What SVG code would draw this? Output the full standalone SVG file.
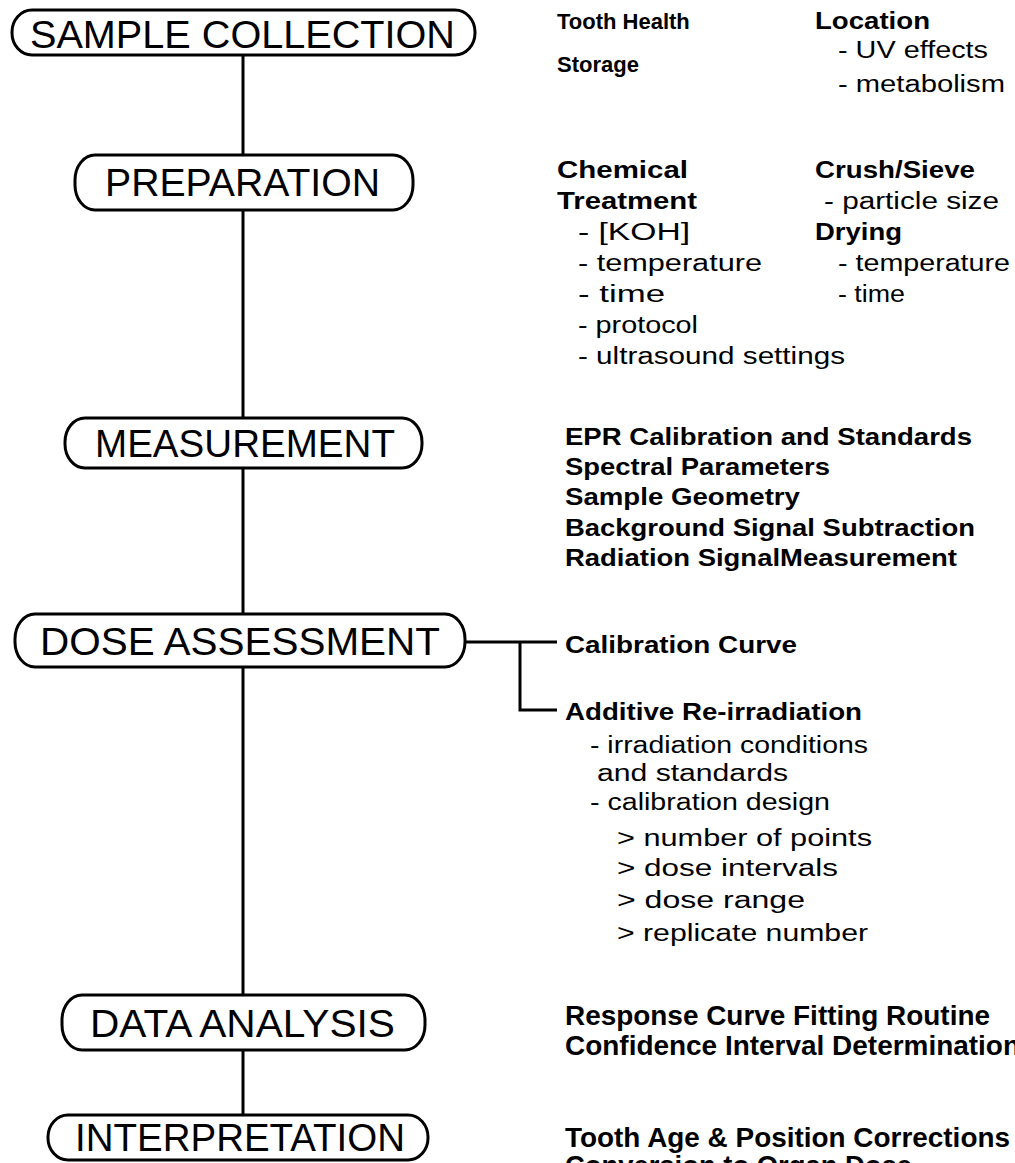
<svg xmlns="http://www.w3.org/2000/svg" width="1015" height="1163" viewBox="0 0 1015 1163">
<style>
.box{fill:#fff;stroke:#000;stroke-width:3}
.lbl{font-family:"Liberation Sans",Arial,sans-serif;font-size:38px;fill:#000}
.b{font-family:"Liberation Sans",Arial,sans-serif;font-size:23px;font-weight:bold;fill:#000}
.b22{font-family:"Liberation Sans",Arial,sans-serif;font-size:22px;font-weight:bold;fill:#000}
.r{font-family:"Liberation Sans",Arial,sans-serif;font-size:23px;fill:#000}
.bn{font-family:"Liberation Sans",Arial,sans-serif;font-size:27px;font-weight:bold;fill:#000}
.ln{fill:none;stroke:#000;stroke-width:3}
</style>
<rect width="1015" height="1163" fill="#fff"/>
<g id="connectors">
<line class="ln" x1="243" y1="55" x2="243" y2="1115"/>
<polyline class="ln" points="465,642 557,642"/>
<polyline class="ln" points="520,642 520,710 557,710"/>
</g>
<g id="n1">
<rect class="box" x="12" y="10" width="463" height="45" rx="20" ry="22"/>
<text class="lbl" x="30" y="48" textLength="425" lengthAdjust="spacingAndGlyphs">SAMPLE COLLECTION</text>
</g>
<g id="n2">
<rect class="box" x="75" y="155" width="338" height="55" rx="20" ry="25"/>
<text class="lbl" x="105" y="196" textLength="275" lengthAdjust="spacingAndGlyphs">PREPARATION</text>
</g>
<g id="n3">
<rect class="box" x="65" y="418" width="357" height="50" rx="20" ry="24"/>
<text class="lbl" x="95" y="457" textLength="300" lengthAdjust="spacingAndGlyphs">MEASUREMENT</text>
</g>
<g id="n4">
<rect class="box" x="15" y="614" width="450" height="53" rx="20" ry="25"/>
<text class="lbl" x="40" y="655" textLength="400" lengthAdjust="spacingAndGlyphs">DOSE ASSESSMENT</text>
</g>
<g id="n5">
<rect class="box" x="62" y="995" width="363" height="55" rx="20" ry="25"/>
<text class="lbl" x="90" y="1037" textLength="305" lengthAdjust="spacingAndGlyphs">DATA ANALYSIS</text>
</g>
<g id="n6">
<rect class="box" x="48" y="1115" width="380" height="45" rx="20" ry="22"/>
<text class="lbl" x="75" y="1151" textLength="330" lengthAdjust="spacingAndGlyphs">INTERPRETATION</text>
</g>
<g id="t1">
<text class="b22" x="557" y="29">Tooth Health</text>
<text class="b22" x="557" y="72">Storage</text>
<text class="b" x="815" y="29" textLength="115" lengthAdjust="spacingAndGlyphs">Location</text>
<text class="r" x="838" y="58" textLength="150" lengthAdjust="spacingAndGlyphs">- UV effects</text>
<text class="r" x="838" y="92" textLength="167" lengthAdjust="spacingAndGlyphs">- metabolism</text>
</g>
<g id="t2">
<text class="b" x="557" y="178" textLength="131" lengthAdjust="spacingAndGlyphs">Chemical</text>
<text class="b" x="557" y="209" textLength="140" lengthAdjust="spacingAndGlyphs">Treatment</text>
<text class="r" x="578" y="240" textLength="112" lengthAdjust="spacingAndGlyphs">- [KOH]</text>
<text class="r" x="578" y="271" textLength="184" lengthAdjust="spacingAndGlyphs">- temperature</text>
<text class="r" x="578" y="302" textLength="87" lengthAdjust="spacingAndGlyphs">- time</text>
<text class="r" x="578" y="333" textLength="120" lengthAdjust="spacingAndGlyphs">- protocol</text>
<text class="r" x="578" y="364" textLength="267" lengthAdjust="spacingAndGlyphs">- ultrasound settings</text>
<text class="b" x="815" y="178" textLength="160" lengthAdjust="spacingAndGlyphs">Crush/Sieve</text>
<text class="r" x="824" y="209" textLength="175" lengthAdjust="spacingAndGlyphs">- particle size</text>
<text class="b" x="815" y="240" textLength="87" lengthAdjust="spacingAndGlyphs">Drying</text>
<text class="r" x="838" y="271" textLength="172" lengthAdjust="spacingAndGlyphs">- temperature</text>
<text class="r" x="838" y="302" textLength="67" lengthAdjust="spacingAndGlyphs">- time</text>
</g>
<g id="t3">
<text class="b" x="565" y="445" textLength="407" lengthAdjust="spacingAndGlyphs">EPR Calibration and Standards</text>
<text class="b" x="565" y="475" textLength="265" lengthAdjust="spacingAndGlyphs">Spectral Parameters</text>
<text class="b" x="565" y="505" textLength="235" lengthAdjust="spacingAndGlyphs">Sample Geometry</text>
<text class="b" x="565" y="536" textLength="410" lengthAdjust="spacingAndGlyphs">Background Signal Subtraction</text>
<text class="b" x="565" y="566" textLength="392" lengthAdjust="spacingAndGlyphs">Radiation SignalMeasurement</text>
</g>
<g id="t4">
<text class="b" x="565" y="653" textLength="232" lengthAdjust="spacingAndGlyphs">Calibration Curve</text>
<text class="b" x="565" y="720" textLength="297" lengthAdjust="spacingAndGlyphs">Additive Re-irradiation</text>
<text class="r" x="590" y="753" textLength="278" lengthAdjust="spacingAndGlyphs">- irradiation conditions</text>
<text class="r" x="597" y="781" textLength="191" lengthAdjust="spacingAndGlyphs">and standards</text>
<text class="r" x="590" y="810" textLength="240" lengthAdjust="spacingAndGlyphs">- calibration design</text>
<text class="r" x="617" y="846" textLength="255" lengthAdjust="spacingAndGlyphs">&gt; number of points</text>
<text class="r" x="617" y="876" textLength="221" lengthAdjust="spacingAndGlyphs">&gt; dose intervals</text>
<text class="r" x="617" y="908" textLength="188" lengthAdjust="spacingAndGlyphs">&gt; dose range</text>
<text class="r" x="617" y="941" textLength="251" lengthAdjust="spacingAndGlyphs">&gt; replicate number</text>
</g>
<g id="t5">
<text class="bn" x="565" y="1025" textLength="425" lengthAdjust="spacingAndGlyphs">Response Curve Fitting Routine</text>
<text class="bn" x="565" y="1055" textLength="455" lengthAdjust="spacingAndGlyphs">Confidence Interval Determination</text>
</g>
<g id="t6">
<text class="bn" x="565" y="1147" textLength="445" lengthAdjust="spacingAndGlyphs">Tooth Age &amp; Position Corrections</text>
<text class="bn" x="565" y="1175" textLength="347" lengthAdjust="spacingAndGlyphs">Conversion to Organ Dose</text>
</g>
</svg>
